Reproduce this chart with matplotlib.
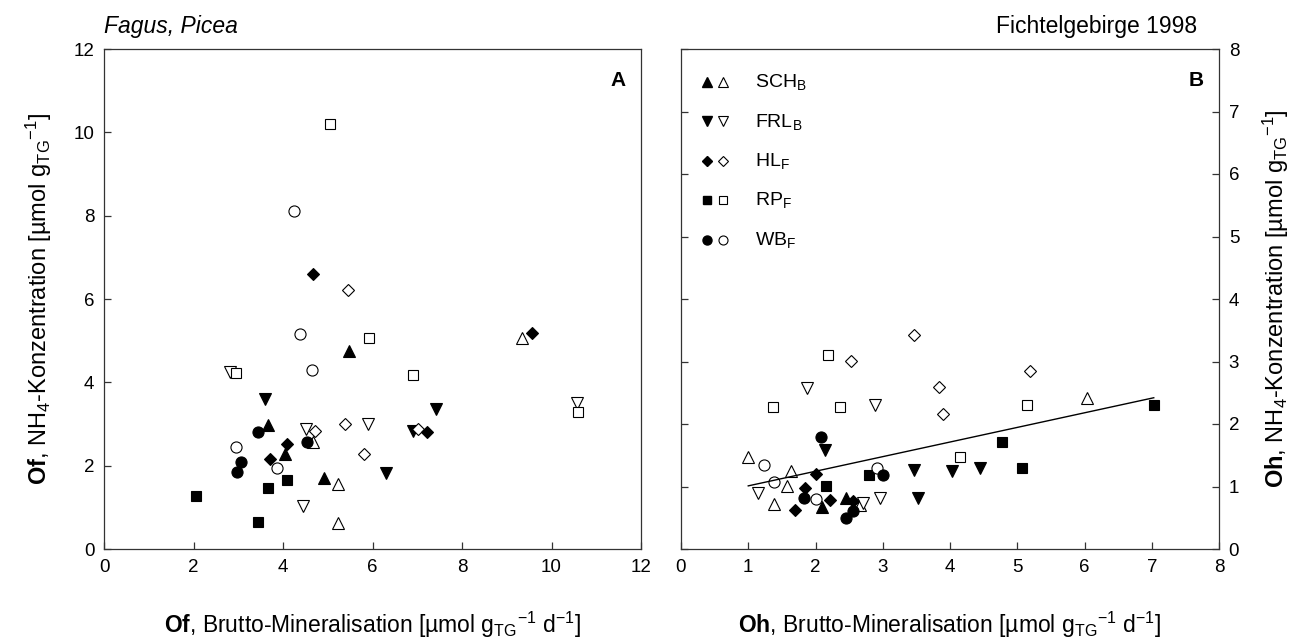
import numpy as np
import matplotlib
matplotlib.use("Agg")
import matplotlib.pyplot as plt

plt.rcParams['font.family'] = ['Liberation Sans', 'DejaVu Sans']
plt.rcParams['mathtext.fontset'] = 'custom'
plt.rcParams['mathtext.rm'] = 'Liberation Sans'
plt.rcParams['mathtext.it'] = 'Liberation Sans:italic'
plt.rcParams['mathtext.bf'] = 'Liberation Sans:bold'

# sites: SCH_B, FRL_B, HL_F, RP_F, WB_F
site_labels = [r'SCH$_\mathrm{B}$', r'FRL$_\mathrm{B}$', r'HL$_\mathrm{F}$',
               r'RP$_\mathrm{F}$', r'WB$_\mathrm{F}$']
site_markers = ['^', 'v', 'D', 's', 'o']
marker_sizes = [8, 8, 6.5, 7, 8]

# panel A (Of), filled symbols
of_fill_x = [[3.67, 4.04, 4.91, 5.48],
             [3.59, 6.30, 6.91, 7.41],
             [3.71, 4.10, 4.67, 7.21, 9.57],
             [2.06, 3.45, 3.67, 4.10],
             [2.98, 3.06, 3.44, 4.54]]
of_fill_y = [[2.97, 2.27, 1.70, 4.76],
             [3.59, 1.82, 2.83, 3.37],
             [2.17, 2.51, 6.61, 2.80, 5.18],
             [1.27, 0.64, 1.46, 1.65],
             [1.84, 2.10, 2.80, 2.57]]
# panel A (Of), open symbols
of_open_x = [[4.68, 5.24, 5.24, 9.34],
             [2.81, 4.45, 4.52, 5.90, 10.57],
             [4.72, 5.39, 5.45, 5.81, 7.02],
             [2.94, 5.06, 5.93, 6.91, 10.60],
             [2.94, 3.86, 4.24, 4.37, 4.65]]
of_open_y = [[2.57, 1.55, 0.62, 5.06],
             [4.25, 1.04, 2.87, 2.99, 3.50],
             [2.84, 3.00, 6.22, 2.27, 2.87],
             [4.23, 10.20, 5.06, 4.18, 3.29],
             [2.44, 1.95, 8.11, 5.16, 4.30]]

# panel B (Oh), filled symbols
oh_fill_x = [[2.10, 2.46],
             [2.14, 3.47, 3.52, 4.03, 4.45],
             [1.69, 1.85, 2.01, 2.21, 2.56],
             [2.16, 2.80, 4.78, 5.07, 7.03],
             [1.83, 2.08, 2.46, 2.56, 3.00]]
oh_fill_y = [[0.68, 0.82],
             [1.58, 1.27, 0.82, 1.25, 1.30],
             [0.62, 0.97, 1.20, 0.79, 0.77],
             [1.01, 1.19, 1.72, 1.29, 2.30],
             [0.81, 1.80, 0.49, 0.61, 1.19]]
# panel B (Oh), open symbols
oh_open_x = [[1.00, 1.38, 1.58, 1.63, 2.66, 6.04],
             [1.14, 1.87, 2.70, 2.88, 2.96],
             [2.53, 3.47, 3.84, 3.89, 5.19],
             [1.37, 2.19, 2.36, 4.15, 5.15],
             [1.24, 1.39, 2.01, 2.91]]
oh_open_y = [[1.48, 0.72, 1.01, 1.25, 0.70, 2.42],
             [0.90, 2.58, 0.74, 2.30, 0.81],
             [3.01, 3.43, 2.60, 2.16, 2.85],
             [2.27, 3.10, 2.27, 1.48, 2.31],
             [1.34, 1.07, 0.80, 1.30]]

# regression line in panel B
fit_x = [1.0, 7.03]
fit_y = [1.01, 2.42]

fig = plt.figure(figsize=(13.13, 6.44), dpi=100)
axA = fig.add_axes([104/1313, 95/644, 537/1313, 500/644])
axB = fig.add_axes([681/1313, 95/644, 538/1313, 500/644])


def draw_points(ax, fx, fy, ox, oy):
    for i in range(len(site_markers)):
        ax.plot(ox[i], oy[i], linestyle='none', marker=site_markers[i],
                markersize=marker_sizes[i], markerfacecolor='white',
                markeredgecolor='black', markeredgewidth=0.8, clip_on=False)
        ax.plot(fx[i], fy[i], linestyle='none', marker=site_markers[i],
                markersize=marker_sizes[i], markerfacecolor='black',
                markeredgecolor='black', markeredgewidth=0.8, clip_on=False)


def style_axes(ax):
    for s in ax.spines.values():
        s.set_linewidth(0.9)
        s.set_color('#333333')
    ax.tick_params(direction='in', length=5, width=0.9, labelsize=13.5,
                   color='#333333', pad=7)


draw_points(axA, of_fill_x, of_fill_y, of_open_x, of_open_y)
draw_points(axB, oh_fill_x, oh_fill_y, oh_open_x, oh_open_y)
axB.plot(fit_x, fit_y, color='black', linewidth=1.0)

# panel A
axA.set_xlim(0, 12)
axA.set_ylim(0, 12)
axA.set_xticks(np.arange(0, 13, 2))
axA.set_yticks(np.arange(0, 13, 2))
style_axes(axA)
axA.tick_params(top=False, right=False)
axA.set_xlabel(r'$\mathbf{Of}$, Brutto-Mineralisation [µmol g$_\mathrm{TG}{}^{-1}$ d$^{-1}$]',
               fontsize=16.5)
axA.set_ylabel(r'$\mathbf{Of}$, NH$_4$-Konzentration [µmol g$_\mathrm{TG}{}^{-1}$]',
               fontsize=17)
axA.xaxis.set_label_coords(0.5, -0.122)
axA.yaxis.set_label_coords(-0.093, 0.5)
axA.text(0.972, 0.955, 'A', transform=axA.transAxes, ha='right', va='top',
         fontsize=15, fontweight='bold')
axA.text(0.0, 1.022, 'Fagus, Picea', transform=axA.transAxes, ha='left',
         va='bottom', fontsize=16.5, style='italic')

# panel B
axB.set_xlim(0, 8)
axB.set_ylim(0, 8)
axB.set_xticks(np.arange(0, 9, 1))
axB.set_yticks(np.arange(0, 9, 1))
style_axes(axB)
axB.tick_params(axis='y', left=True, right=True, labelleft=False, labelright=True)
axB.set_xlabel(r'$\mathbf{Oh}$, Brutto-Mineralisation [µmol g$_\mathrm{TG}{}^{-1}$ d$^{-1}$]',
               fontsize=16.5)
axB.yaxis.set_label_position('right')
axB.set_ylabel(r'$\mathbf{Oh}$, NH$_4$-Konzentration [µmol g$_\mathrm{TG}{}^{-1}$]',
               fontsize=17, rotation=90)
axB.xaxis.set_label_coords(0.5, -0.122)
axB.yaxis.set_label_coords(1.078, 0.5)
axB.text(0.972, 0.955, 'B', transform=axB.transAxes, ha='right', va='top',
         fontsize=15, fontweight='bold')
axB.text(0.96, 1.022, 'Fichtelgebirge 1998', transform=axB.transAxes, ha='right',
         va='bottom', fontsize=16.5)

# legend drawn by hand in the top left of panel B
for i, lab in enumerate(site_labels):
    yy = 0.934 - i * 0.079
    axB.plot(0.048, yy, transform=axB.transAxes, marker=site_markers[i],
             markersize=marker_sizes[i] - 1.5, color='black', linestyle='none')
    axB.plot(0.078, yy, transform=axB.transAxes, marker=site_markers[i],
             markersize=marker_sizes[i] - 1.5, markerfacecolor='white',
             markeredgecolor='black', markeredgewidth=0.8, linestyle='none')
    axB.text(0.138, yy, lab, transform=axB.transAxes, ha='left', va='center',
             fontsize=14)

fig.savefig('out.png', dpi=100)
